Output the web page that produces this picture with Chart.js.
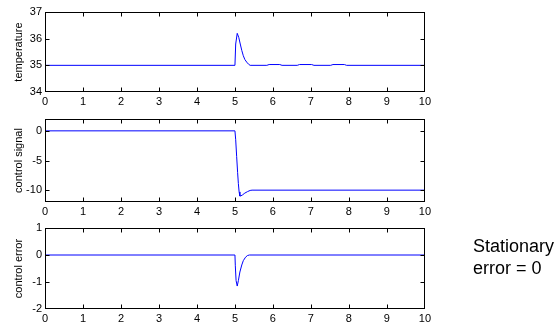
<!DOCTYPE html>
<html>
<head>
<meta charset="utf-8">
<script src="https://cdn.jsdelivr.net/npm/chart.js@4.4.0/dist/chart.umd.min.js"></script>
<style>
  body { margin: 0; background: #fff; width: 559px; height: 326px; position: relative; overflow: hidden; }
  .plot { position: absolute; left: 0; }
  #note { position: absolute; left: 473px; top: 235px; font: 18px "Liberation Sans", Arial, sans-serif; line-height: 22px; color: #000; }
</style>
</head>
<body>
<div class="plot" style="top:0px"><canvas id="tempChart" width="434" height="112"></canvas></div>
<div class="plot" style="top:107px"><canvas id="signalChart" width="434" height="115"></canvas></div>
<div class="plot" style="top:216px"><canvas id="errorChart" width="434" height="113"></canvas></div>
<div id="note">Stationary<br>error = 0</div>
<script>
// data (time in s)
const timeTicks = [0, 1, 2, 3, 4, 5, 6, 7, 8, 9, 10];

const tempTime = [0, 5.0, 5.02, 5.06, 5.1, 5.14, 5.18, 5.22, 5.26, 5.31, 5.36, 5.4, 5.84, 5.9, 6.18, 6.24, 6.64, 6.7, 7.02, 7.08, 7.52, 7.58, 7.88, 7.94, 10];
const temperature = [35, 35, 35.8, 36.2, 36.05, 35.8, 35.56, 35.36, 35.22, 35.12, 35.04, 35, 35, 35.03, 35.03, 35, 35, 35.03, 35.03, 35, 35, 35.03, 35.03, 35, 35];
const tempTicks = [34, 35, 36, 37];

const signalTime = [0, 5.0, 5.02, 5.045, 5.07, 5.09, 5.11, 5.13, 5.16, 5.2, 5.26, 5.33, 5.4, 5.45, 10];
const controlSignal = [0, 0, -1.5, -4.3, -7, -8.9, -10.3, -11.0, -10.95, -10.8, -10.5, -10.25, -10.05, -10, -10];
const signalTicks = [-10, -5, 0];

const errorTime = [0, 5.0, 5.01, 5.03, 5.06, 5.09, 5.13, 5.18, 5.22, 5.28, 5.33, 5.38, 10];
const controlError = [0, 0, -0.4, -0.95, -1.15, -0.95, -0.63, -0.37, -0.21, -0.08, -0.02, 0, 0];
const errorTicks = [-2, -1, 0, 1];

const FONT = { family: '"Liberation Sans", Arial, sans-serif', size: 11 };

// MATLAB-like box with inward tick marks on all four sides
const matlabBox = {
  id: 'matlabBox',
  afterDatasetsDraw(chart) {
    const { ctx, chartArea: a, scales: { x, y } } = chart;
    const L = Math.round(a.left) + 0.5, R = Math.round(a.right) - 0.5;
    const T = Math.round(a.top) + 0.5, B = Math.round(a.bottom) - 0.5;
    const clamp = (v, lo, hi) => Math.min(hi, Math.max(lo, v));
    ctx.save();
    ctx.strokeStyle = '#000';
    ctx.lineWidth = 1;
    ctx.strokeRect(L, T, R - L, B - T);
    ctx.beginPath();
    x.ticks.forEach(t => {
      const px = clamp(Math.round(x.getPixelForValue(t.value)) + 0.5, L, R);
      ctx.moveTo(px, T); ctx.lineTo(px, T + 4);
      ctx.moveTo(px, B); ctx.lineTo(px, B - 4);
    });
    y.ticks.forEach(t => {
      const py = clamp(Math.round(y.getPixelForValue(t.value)) + 0.5, T, B);
      ctx.moveTo(L, py); ctx.lineTo(L + 4, py);
      ctx.moveTo(R, py); ctx.lineTo(R - 4, py);
    });
    ctx.stroke();
    ctx.restore();
  }
};

function makePlot(id, times, values, yMin, yMax, yTicks, yTitle) {
  const points = times.map((t, i) => ({ x: t, y: values[i] }));
  new Chart(document.getElementById(id), {
    type: 'line',
    data: {
      datasets: [{
        data: points,
        borderColor: '#0000ff',
        borderWidth: 1,
        pointRadius: 0,
        tension: 0,
        fill: false,
      }],
    },
    options: {
      responsive: false,
      animation: false,
      layout: { padding: { top: 12, right: 6, left: 0, bottom: 0 } },
      plugins: { legend: { display: false }, tooltip: { enabled: false } },
      scales: {
        x: {
          type: 'linear',
          min: 0,
          max: 10,
          afterBuildTicks: s => { s.ticks = timeTicks.map(v => ({ value: v })); },
          afterFit: s => { s.height = 20; },
          grid: { display: false, drawTicks: false },
          border: { display: false },
          ticks: { color: '#000', font: FONT, padding: 3, maxRotation: 0, autoSkip: false },
        },
        y: {
          min: yMin,
          max: yMax,
          afterBuildTicks: s => { s.ticks = yTicks.map(v => ({ value: v })); },
          afterFit: s => { s.width = 45; },
          grid: { display: false, drawTicks: false },
          border: { display: false },
          ticks: { color: '#000', font: FONT, padding: 3, autoSkip: false },
          title: { display: true, text: yTitle, color: '#000', font: FONT, padding: { top: 12, bottom: 0 } },
        },
      },
    },
    plugins: [matlabBox],
  });
}

makePlot('tempChart', tempTime, temperature, 34, 37, tempTicks, 'temperature');
makePlot('signalChart', signalTime, controlSignal, -12, 2, signalTicks, 'control signal');
makePlot('errorChart', errorTime, controlError, -2, 1, errorTicks, 'control error');
</script>
</body>
</html>
